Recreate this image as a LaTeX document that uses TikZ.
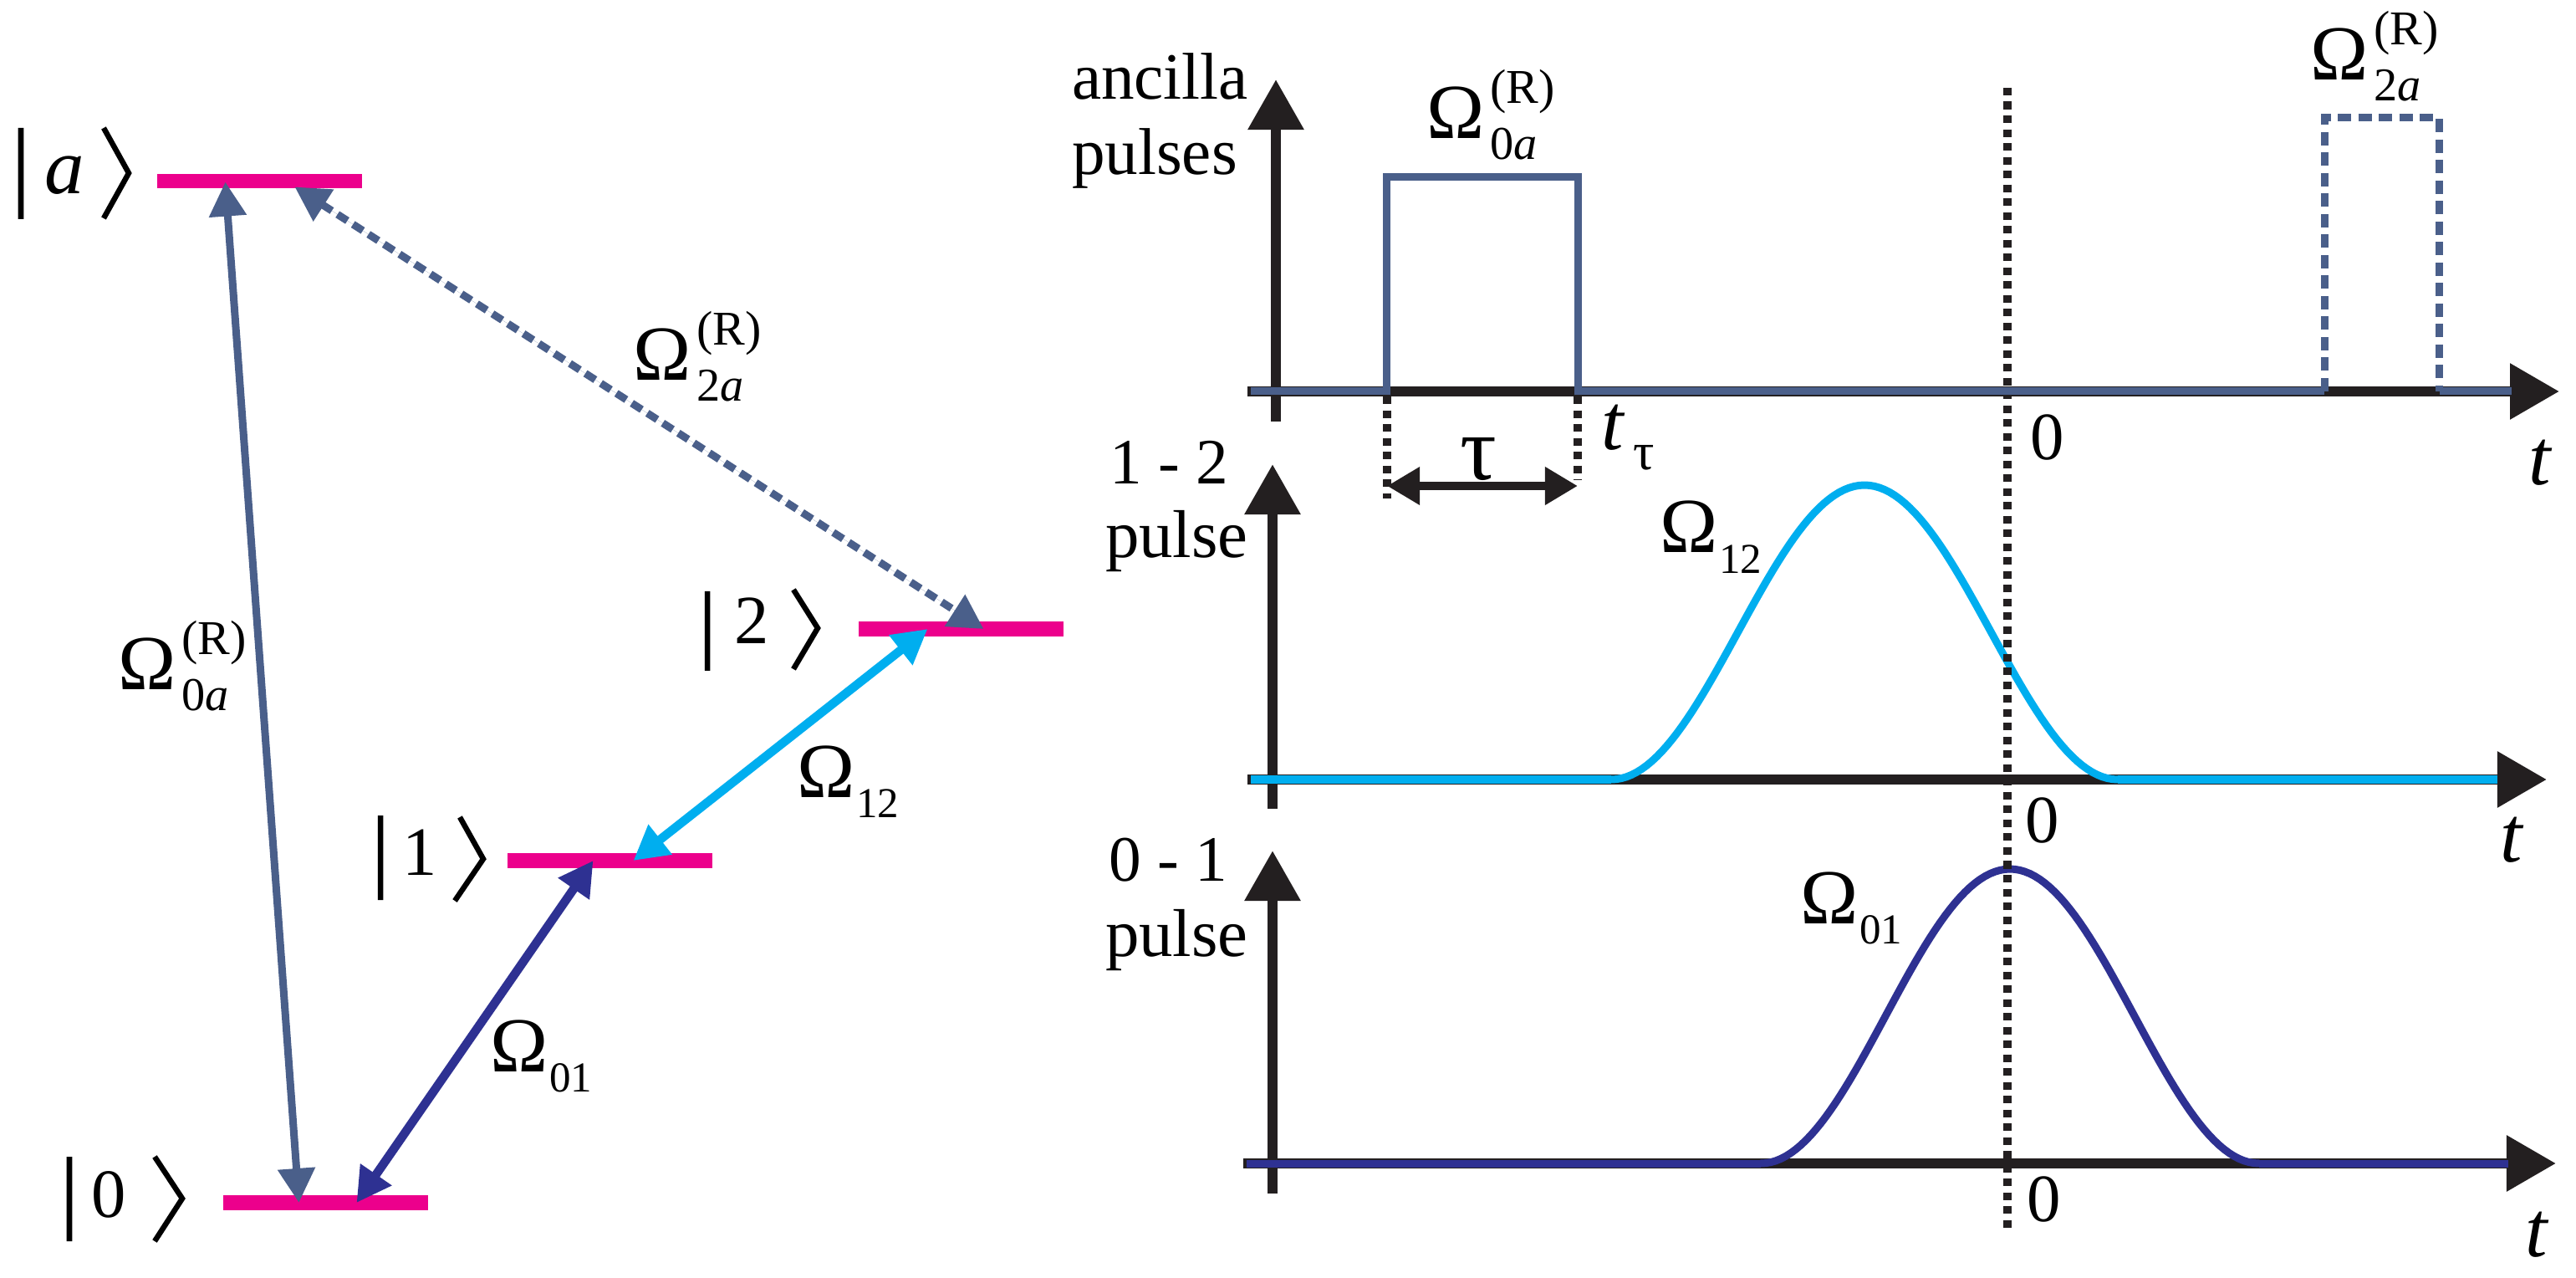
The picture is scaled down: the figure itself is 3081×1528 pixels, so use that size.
\documentclass[tikz,border=0pt]{standalone}
\usepackage{fontspec}
\setmainfont{Liberation Serif}
\usetikzlibrary{arrows.meta,calc}
\definecolor{mag}{HTML}{EC008C}
\definecolor{slate}{HTML}{4A5F8A}
\definecolor{cyanp}{HTML}{00AEEF}
\definecolor{navyp}{HTML}{2E3192}
\definecolor{ink}{HTML}{231F20}
\newcommand{\fs}[1]{\fontsize{#1}{#1}\selectfont}
\newcommand{\OmRS}[2]{{\fs{26.5}Ω}\kern0.07cm\rlap{\raisebox{-0.24cm}{\fs{16}#1\textit{#2}}}\raisebox{0.42cm}{\fs{16.5}(R)}}
\newcommand{\OmS}[1]{{\fs{26.5}Ω}\kern0.02cm\raisebox{-0.24cm}{\fs{14.5}#1}}
\tikzset{
  every node/.style={inner sep=0pt,outer sep=0pt,anchor=base west,text=black},
  lev/.style={fill=mag,draw=none,minimum height=0.175cm,anchor=center},
  ketline/.style={draw=black,line width=0.065cm,line join=miter},
  trans/.style={line width=0.09cm,{Triangle[length=0.41cm,width=0.43cm]}-{Triangle[length=0.41cm,width=0.43cm]}},
  axisv/.style={draw=ink,line width=0.125cm,-{Triangle[length=0.60cm,width=0.64cm]}},
  axish/.style={draw=ink,line width=0.125cm,-{Triangle[length=0.59cm,width=0.64cm]}},
  base/.style={line width=0.09cm,line join=miter},
  pulsecurve/.style={line width=0.09cm,line join=round,line cap=round},
  dots/.style={draw=ink,line width=0.1cm,dash pattern=on 0.09cm off 0.075cm},
  txt/.style={font=\fs{23}},
  txtb/.style={font=\fs{22}},
  ital/.style={font=\fs{27}\itshape}
}
\begin{document}
\begin{tikzpicture}[x=0.01cm,y=-0.01cm]
\useasboundingbox (0,0) rectangle (3081,1528);
% levels
\node[lev,minimum width=2.45cm] (la) at (310.5,216.5) {};
\node[lev,minimum width=2.45cm] (l2) at (1149.5,752) {};
\node[lev,minimum width=2.45cm] (l1) at (729.5,1029) {};
\node[lev,minimum width=2.45cm] (l0) at (389.5,1438) {};
% transitions
\coordinate (a0t) at ($(la)+(-41,1)$);
\coordinate (a0b) at ($(l0)+(-32,0)$);
\draw[trans,draw=slate,fill=slate] (a0t) -- (a0b);
\coordinate (a2t) at ($(la)+(42,7)$);
\coordinate (a2b) at ($(l2)+(27,0)$);
\draw[trans,draw=slate,fill=slate,dash pattern=on 0.14cm off 0.08cm] (a2t) -- (a2b);
\coordinate (c12t) at ($(l2)+(-40,0)$);
\coordinate (c12b) at ($(l1)+(28,0)$);
\draw[trans,line width=0.105cm,draw=cyanp,fill=cyanp] (c12t) -- (c12b);
\coordinate (n01t) at ($(l1)+(-20,0)$);
\coordinate (n01b) at ($(l0)+(37,0)$);
\draw[trans,line width=0.105cm,draw=navyp,fill=navyp] (n01t) -- (n01b);
% kets
\draw[ketline] (25,153) -- (25,262) (124,153) -- (154,207) -- (124,261);
\node[font=\fs{27}\itshape] (ka) at (53,232) {a};
\draw[ketline] (846,707) -- (846,802) (949,705) -- (978,751) -- (949,800);
\node[font=\fs{23.5}] (k2) at (878,770) {2};
\draw[ketline] (455,975) -- (455,1076) (550,977) -- (578,1027) -- (544,1077);
\node[font=\fs{23.5}] (k1) at (481,1046) {1};
\draw[ketline] (83,1383) -- (83,1484) (185,1383) -- (218,1433) -- (185,1484);
\node[font=\fs{23.5}] (k0) at (110,1455) {0};
% left labels
\node (om2l) at (757,455) {\OmRS{2}{a}};
\node (om0l) at (141,825) {\OmRS{0}{a}};
\node (om12l) at (953,953) {\OmS{12}};
\node (om01l) at (586,1281) {\OmS{01}};
% right: axes
\coordinate (v1b) at (1526,504); \coordinate (v1t) at (1526,95);
\coordinate (v2b) at (1522,967); \coordinate (v2t) at (1522,555);
\coordinate (v3b) at (1522,1427); \coordinate (v3t) at (1522,1017);
\draw[axisv] (v1b) -- (v1t);
\draw[axisv] (v2b) -- (v2t);
\draw[axisv] (v3b) -- (v3t);
\coordinate (h1a) at (1492,468); \coordinate (h1b) at (3061,468);
\coordinate (h2a) at (1492,932); \coordinate (h2b) at (3046,932);
\coordinate (h3a) at (1487,1391); \coordinate (h3b) at (3057,1391);
\draw[axish] (h1a) -- (h1b);
\draw[axish] (h2a) -- (h2b);
\draw[axish] (h3a) -- (h3b);
% gaussian pulses
\draw[base,draw=cyanp] (1496,932) -- (1927,932);
\draw[base,draw=cyanp] (2533,932) -- (2987,932);
\draw[pulsecurve,draw=cyanp] plot[domain=-1:1,samples=101] ({2230+303*\x},{932-352*cos(90*\x)^2});
\draw[base,draw=navyp] (1491,1391) -- (2106,1391);
\draw[base,draw=navyp] (2702,1391) -- (3000,1391);
\draw[pulsecurve,draw=navyp] plot[domain=-1:1,samples=101] ({2404+298*\x},{1391-352*cos(90*\x)^2});
% dotted guides
\coordinate (g1) at (2401,105); \coordinate (g2) at (2401,1473);
\draw[dots] (g1) -- (g2);
\coordinate (d1a) at (1659,474); \coordinate (d1b) at (1659,596);
\coordinate (d2a) at (1887,474); \coordinate (d2b) at (1887,574);
\draw[dots] (d1a) -- (d1b);
\draw[dots] (d2a) -- (d2b);
\coordinate (dbl) at (1659,581); \coordinate (dbr) at (1887,581);
\draw[draw=ink,fill=ink,line width=0.1cm,{Triangle[length=0.39cm,width=0.43cm]}-{Triangle[length=0.39cm,width=0.43cm]}] (dbl) -- (dbr);
% ancilla pulses
\draw[base,draw=slate] (1496,468) -- (1658,468) -- (1658,212) -- (1887,212) -- (1887,468) -- (2780,468);
\draw[base,draw=slate,dash pattern=on 0.16cm off 0.085cm] (2780,468) -- (2780,141) -- (2917.5,141) -- (2917.5,468);
\draw[base,draw=slate] (2917.5,468) -- (3004,468);
% right labels
\node[font=\fs{22.5}] (anc) at (1282,119) {ancilla};
\node[font=\fs{22.5}] (pls) at (1282,209) {pulses};
\node[txtb] (p12a) at (1327,579) {1 - 2};
\node[txt] (p12b) at (1322,667) {pulse};
\node[txtb] (p01a) at (1326,1053) {0 - 1};
\node[txt] (p01b) at (1322,1143) {pulse};
\node (om0r) at (1706,166) {\OmRS{0}{a}};
\node (om2r) at (2763,96) {\OmRS{2}{a}};
\node (om12r) at (1985,661) {\OmS{12}};
\node (om01r) at (2153,1104) {\OmS{01}};
\node[font=\fs{31}] (tau) at (1746,574) {τ};
\node[ital] (ttau) at (1915,538) {t};
\node[font=\fs{18}] (ttaus) at (1953,562) {τ};
\node[txt] (z1) at (2428,550) {0};
\node[txt] (z2) at (2422,1007) {0};
\node[txt] (z3) at (2424,1460) {0};
\node[ital] (t1) at (3024,580) {t};
\node[ital] (t2) at (2990,1030) {t};
\node[ital] (t3) at (3020,1502) {t};
\end{tikzpicture}
\end{document}
